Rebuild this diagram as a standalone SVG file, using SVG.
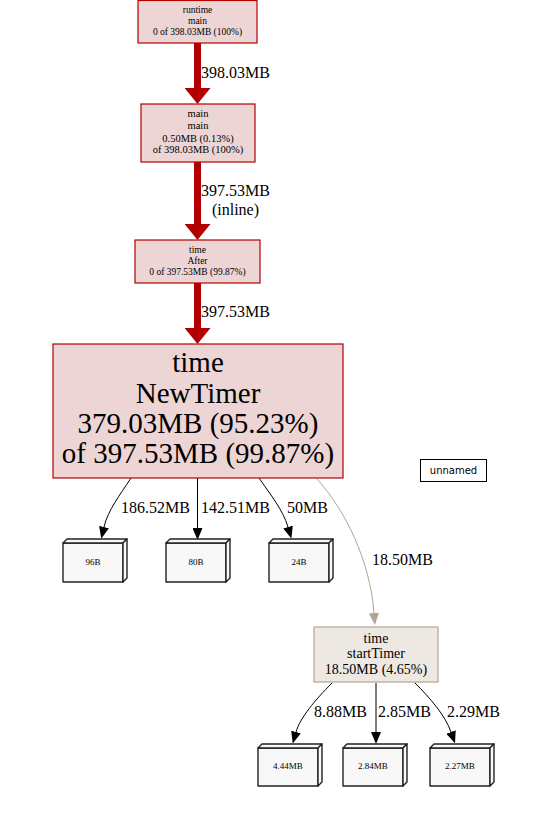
<svg xmlns="http://www.w3.org/2000/svg" width="558" height="816" viewBox="0 0 558 816">
<style>
  text { font-family: "Liberation Serif", "Times New Roman", serif; fill: #000; }
  .hot { fill: #edd5d5; stroke: #b20000; stroke-width: 1.2; }
  .warm { fill: #ede8e2; stroke: #b2a48f; stroke-width: 1.2; }
  .box { fill: #f8f8f8; stroke: #222; stroke-width: 1.4; stroke-linejoin: round; }
  .elabel { font-size: 16px; }
  .big { stroke: #b20000; stroke-width: 7; fill: none; }
  .thin { stroke: #000; stroke-width: 1; fill: none; }
  .tan { stroke: #b2a48f; stroke-width: 1; fill: none; }
  .c { text-anchor: middle; }
</style>
<defs>
  <marker id="arrRed" markerUnits="userSpaceOnUse" markerWidth="16" markerHeight="26" viewBox="0 0 16 26" refX="0" refY="13" orient="auto">
    <path d="M0,0 L16,13 L0,26 z" fill="#b20000"/>
  </marker>
  <marker id="arrBlack" markerUnits="userSpaceOnUse" markerWidth="12" markerHeight="10" viewBox="0 0 12 10" refX="0" refY="5" orient="auto">
    <path d="M0,0 L12,5 L0,10 z" fill="#000"/>
  </marker>
  <marker id="arrTan" markerUnits="userSpaceOnUse" markerWidth="12" markerHeight="10" viewBox="0 0 12 10" refX="0" refY="5" orient="auto">
    <path d="M0,0 L12,5 L0,10 z" fill="#b2a48f"/>
  </marker>
</defs>

<g id="connectors">
  <path class="big" d="M197.5,43 L197.5,88" marker-end="url(#arrRed)"/>
  <text class="elabel" x="201" y="78">398.03MB</text>
  <path class="big" d="M197.5,162 L197.5,224" marker-end="url(#arrRed)"/>
  <text class="elabel" x="201" y="196">397.53MB</text>
  <text class="elabel c" x="235.5" y="215">(inline)</text>
  <path class="big" d="M197.5,283 L197.5,328" marker-end="url(#arrRed)"/>
  <text class="elabel" x="201" y="317">397.53MB</text>

  <path class="thin" d="M131,478 C120,495 108,510 104,527" marker-end="url(#arrBlack)"/>
  <text class="elabel" x="121" y="513">186.52MB</text>
  <path class="thin" d="M197.5,478 L197.5,528" marker-end="url(#arrBlack)"/>
  <text class="elabel" x="201" y="513">142.51MB</text>
  <path class="thin" d="M259,478 C270,494 283,510 288,527" marker-end="url(#arrBlack)"/>
  <text class="elabel" x="287" y="513">50MB</text>
  <path class="tan" d="M317,479 C345,510 370,560 374,613" marker-end="url(#arrTan)"/>
  <text class="elabel" x="372" y="565">18.50MB</text>

  <path class="thin" d="M332,683 C315,700 300,718 296,732" marker-end="url(#arrBlack)"/>
  <text class="elabel" x="314" y="717">8.88MB</text>
  <path class="thin" d="M376,683 L376,732" marker-end="url(#arrBlack)"/>
  <text class="elabel" x="378" y="717">2.85MB</text>
  <path class="thin" d="M415,683 C430,698 445,715 451,732" marker-end="url(#arrBlack)"/>
  <text class="elabel" x="447" y="717">2.29MB</text>
</g>

<g id="runtime-main">
  <rect class="hot" x="138" y="0.5" width="119" height="42.5"/>
  <text class="c" x="197.5" y="13" font-size="9.5">runtime</text>
  <text class="c" x="197.5" y="24" font-size="9.5">main</text>
  <text class="c" x="197.5" y="35" font-size="9.5">0 of 398.03MB (100%)</text>
</g>

<g id="main-main">
  <rect class="hot" x="141" y="104" width="114" height="58"/>
  <text class="c" x="198" y="117" font-size="10.5">main</text>
  <text class="c" x="198" y="129" font-size="10.5">main</text>
  <text class="c" x="198" y="141.5" font-size="10.5">0.50MB (0.13%)</text>
  <text class="c" x="198" y="153" font-size="10.5">of 398.03MB (100%)</text>
</g>

<g id="time-After">
  <rect class="hot" x="135" y="240" width="125" height="43"/>
  <text class="c" x="197.5" y="253" font-size="9.5">time</text>
  <text class="c" x="197.5" y="263.5" font-size="9.5">After</text>
  <text class="c" x="197.5" y="274.5" font-size="9.5">0 of 397.53MB (99.87%)</text>
</g>

<g id="time-NewTimer">
  <rect class="hot" x="53" y="344" width="290" height="134"/>
  <text class="c" x="198" y="372" font-size="29">time</text>
  <text class="c" x="198" y="403" font-size="29">NewTimer</text>
  <text class="c" x="198" y="433" font-size="29">379.03MB (95.23%)</text>
  <text class="c" x="198" y="463" font-size="29">of 397.53MB (99.87%)</text>
</g>

<g id="unnamed">
  <rect x="420.5" y="459.5" width="66" height="22" fill="#fff" stroke="#000" stroke-width="1"/>
  <text class="c" x="453.5" y="474" font-size="10" style="font-family:'DejaVu Sans', sans-serif;">unnamed</text>
</g>

<g id="leaf-96B">
  <rect class="box" x="63" y="543" width="60" height="39"/>
  <path class="box" d="M63,543 L67,539 L127,539 L123,543 Z"/>
  <path class="box" d="M123,543 L127,539 L127,578 L123,582 Z"/>
  <text class="c" x="93" y="565" font-size="9">96B</text>
</g>

<g id="leaf-80B">
  <rect class="box" x="166" y="543" width="60" height="39"/>
  <path class="box" d="M166,543 L170,539 L230,539 L226,543 Z"/>
  <path class="box" d="M226,543 L230,539 L230,578 L226,582 Z"/>
  <text class="c" x="196" y="565" font-size="9">80B</text>
</g>

<g id="leaf-24B">
  <rect class="box" x="269" y="543" width="60" height="39"/>
  <path class="box" d="M269,543 L273,539 L333,539 L329,543 Z"/>
  <path class="box" d="M329,543 L333,539 L333,578 L329,582 Z"/>
  <text class="c" x="299" y="565" font-size="9">24B</text>
</g>

<g id="time-startTimer">
  <rect class="warm" x="314" y="627" width="124" height="55"/>
  <text class="c" x="376" y="643" font-size="14">time</text>
  <text class="c" x="376" y="658" font-size="14">startTimer</text>
  <text class="c" x="376" y="674" font-size="14">18.50MB (4.65%)</text>
</g>

<g id="leaf-4.44MB">
  <rect class="box" x="258" y="748" width="60" height="38"/>
  <path class="box" d="M258,748 L262,744 L322,744 L318,748 Z"/>
  <path class="box" d="M318,748 L322,744 L322,782 L318,786 Z"/>
  <text class="c" x="288" y="769" font-size="9">4.44MB</text>
</g>

<g id="leaf-2.84MB">
  <rect class="box" x="343" y="748" width="60" height="38"/>
  <path class="box" d="M343,748 L347,744 L407,744 L403,748 Z"/>
  <path class="box" d="M403,748 L407,744 L407,782 L403,786 Z"/>
  <text class="c" x="373" y="769" font-size="9">2.84MB</text>
</g>

<g id="leaf-2.27MB">
  <rect class="box" x="430" y="748" width="60" height="38"/>
  <path class="box" d="M430,748 L434,744 L494,744 L490,748 Z"/>
  <path class="box" d="M490,748 L494,744 L494,782 L490,786 Z"/>
  <text class="c" x="460" y="769" font-size="9">2.27MB</text>
</g>
</svg>
